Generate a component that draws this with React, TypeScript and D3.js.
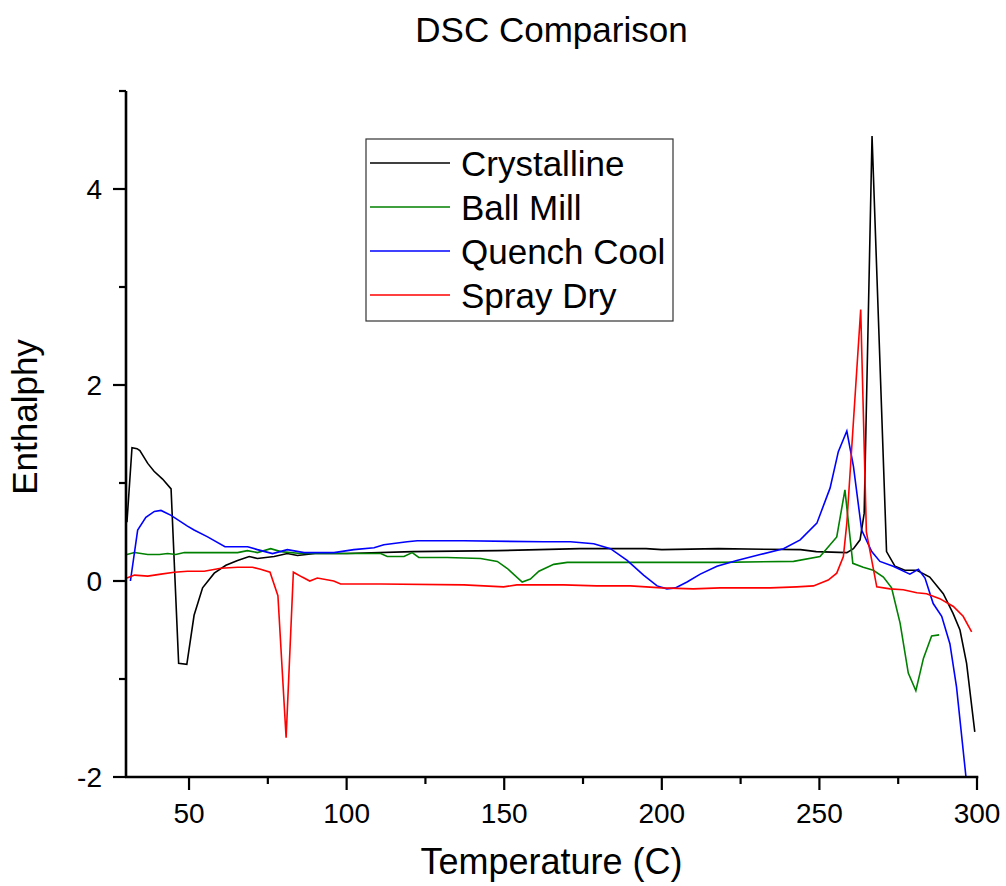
import React from "react";
import * as d3 from "d3";

type Pt = [number, number];

const title = "DSC Comparison";
const xLabel = "Temperature (C)";
const yLabel = "Enthalphy";

const xMajorTicks = [50, 100, 150, 200, 250, 300];
const xMinorTicks = [75, 125, 175, 225, 275];
const yMajorTicks = [-2, 0, 2, 4];
const yMinorTicks = [-1, 1, 3, 5];

const crystalline: Pt[] = [
  [30.3, 0.6], [31.9, 1.36], [33.5, 1.35], [34.4, 1.33], [36.9, 1.2], [38.9, 1.12],
  [41.6, 1.04], [44.3, 0.94], [46.7, -0.84], [49.3, -0.85], [51.6, -0.35], [54.3, -0.07],
  [58, 0.08], [61.7, 0.16], [65.4, 0.21], [69.1, 0.25], [71.7, 0.23], [77, 0.25],
  [81.2, 0.28], [84.4, 0.26], [90, 0.28], [100, 0.28], [121, 0.3], [148, 0.31],
  [174, 0.33], [195, 0.33], [200, 0.32], [218, 0.33], [244, 0.32], [249, 0.3],
  [258.7, 0.29], [260.8, 0.33], [262.9, 0.42], [264.2, 0.69], [266.7, 4.54],
  [271.3, 0.3], [274, 0.15], [277.1, 0.11], [280.9, 0.11], [285, 0.04], [289.3, -0.13],
  [292.4, -0.33], [294.6, -0.5], [296.7, -0.84], [299.3, -1.54],
];

const ballMill: Pt[] = [
  [30.3, 0.27], [32.7, 0.29], [36.9, 0.27], [40.6, 0.27], [43.2, 0.28], [45.8, 0.27],
  [48.5, 0.29], [55.9, 0.29], [65.4, 0.29], [68.5, 0.31], [71.7, 0.29], [75.9, 0.33],
  [79.1, 0.3], [85.4, 0.28], [95, 0.28], [110.8, 0.28], [112.9, 0.25], [118.2, 0.25],
  [120.8, 0.29], [122.9, 0.24], [131.9, 0.24], [142.5, 0.23], [147.8, 0.2], [150.9, 0.13],
  [155.7, -0.01], [158.3, 0.02], [161, 0.1], [165.7, 0.17], [170, 0.19], [190, 0.19],
  [218.5, 0.19], [241.8, 0.2], [250.2, 0.25], [255.5, 0.45], [258.1, 0.93], [260.6, 0.18],
  [263.9, 0.14], [267.1, 0.11], [270.3, 0.04], [272.9, -0.07], [275.6, -0.43],
  [278.2, -0.94], [280.6, -1.12], [283, -0.79], [285.6, -0.56], [288, -0.55],
];

const quenchCool: Pt[] = [
  [31.4, 0.0], [33.7, 0.52], [36.3, 0.65], [39, 0.71], [41.1, 0.72], [44.3, 0.67],
  [49.5, 0.56], [51.6, 0.52], [55.9, 0.45], [61.4, 0.35], [68.6, 0.35], [71.7, 0.32],
  [76.5, 0.28], [81.2, 0.32], [86.5, 0.29], [96, 0.29], [102.3, 0.32], [108.7, 0.34],
  [111.8, 0.37], [119.2, 0.4], [122.4, 0.41], [137.2, 0.41], [162.5, 0.4], [171, 0.4],
  [178.4, 0.38], [183.7, 0.33], [189, 0.21], [194.2, 0.06], [198.5, -0.05], [201.6, -0.08],
  [204.3, -0.07], [208, -0.01], [212.2, 0.07], [217.5, 0.15], [223.8, 0.21], [231.2, 0.27],
  [238.6, 0.33], [243.9, 0.42], [249.2, 0.59], [253.4, 0.95], [256, 1.32], [258.7, 1.53],
  [260.8, 1.17], [263.4, 0.52], [266.6, 0.3], [269.2, 0.2], [273.4, 0.15], [278.7, 0.07],
  [281.4, 0.12], [283.5, 0.03], [286.1, -0.23], [288.8, -0.36], [291.4, -0.64],
  [293.5, -1.08], [296.5, -2.0],
];

const sprayDry: Pt[] = [
  [30.3, 0.03], [32.7, 0.06], [36.9, 0.05], [41.1, 0.07], [45.3, 0.09], [49.5, 0.1],
  [54.8, 0.1], [60.1, 0.13], [65.4, 0.14], [70.1, 0.14], [72.7, 0.12], [75.7, 0.09],
  [78.2, -0.15], [80.8, -1.6], [83.1, 0.09], [85.9, 0.04], [88.3, 0.0], [90.7, 0.03],
  [95.9, 0.0], [98.1, -0.03], [110.8, -0.03], [137.2, -0.04], [143.5, -0.05],
  [149.8, -0.06], [154, -0.04], [168.8, -0.04], [179.3, -0.05], [190, -0.05], [200, -0.07],
  [210, -0.08], [218.5, -0.07], [234.4, -0.07], [242.8, -0.06], [248.1, -0.05],
  [252.8, 0.01], [255.5, 0.08], [257.6, 0.25], [258.7, 0.59], [263.1, 2.77], [264.9, 0.5],
  [268.2, -0.06], [272.4, -0.08], [276.6, -0.09], [280.9, -0.12], [284, -0.13],
  [288.2, -0.18], [292.5, -0.26], [295.6, -0.36], [298.3, -0.52],
];

const seriesNames = ["Crystalline", "Ball Mill", "Quench Cool", "Spray Dry"];
const seriesColors = ["#000000", "#008000", "#0000ff", "#ff0000"];
const seriesData = [crystalline, ballMill, quenchCool, sprayDry];

const W = 1006;
const H = 886;
const FONT = "'Liberation Sans', Arial, sans-serif";

export default function App() {
  const x = d3.scaleLinear().domain([30, 300]).range([126, 977]);
  const y = d3.scaleLinear().domain([-2, 5]).range([777, 91]);
  const line = d3
    .line<Pt>()
    .x((d) => x(d[0]))
    .y((d) => y(d[1]));

  const plotLeft = x(30);
  const plotRight = x(300);
  const plotBottom = y(-2);
  const plotTop = y(5);

  const legendX = 366;
  const legendY = 139;
  const legendW = 307;
  const legendH = 182;
  const rowGap = 44;

  return (
    <svg
      width={W}
      height={H}
      style={{ position: "absolute", left: 0, top: 0, background: "#fff" }}
      fontFamily={FONT}
    >
      <rect x={0} y={0} width={W} height={H} fill="#fff" />
      <text x={(plotLeft + plotRight) / 2} y={42} textAnchor="middle" fontSize={35} fill="#000">
        {title}
      </text>

      {seriesData.map((d, i) => (
        <path
          key={seriesNames[i]}
          d={line(d) || ""}
          fill="none"
          stroke={seriesColors[i]}
          strokeWidth={1.6}
          strokeLinejoin="miter"
        />
      ))}

      {/* axes */}
      <line x1={plotLeft} x2={plotLeft} y1={plotTop} y2={plotBottom + 1} stroke="#000" strokeWidth={2.6} />
      <line x1={plotLeft - 1} x2={plotRight + 1.3} y1={plotBottom} y2={plotBottom} stroke="#000" strokeWidth={2.6} />

      {yMajorTicks.map((t) => (
        <g key={"ym" + t}>
          <line x1={plotLeft - 13} x2={plotLeft} y1={y(t)} y2={y(t)} stroke="#000" strokeWidth={2.2} />
          <text x={102} y={y(t)} dy="0.35em" textAnchor="end" fontSize={28} fill="#000">
            {t}
          </text>
        </g>
      ))}
      {yMinorTicks.map((t) => (
        <line key={"yn" + t} x1={plotLeft - 7} x2={plotLeft} y1={y(t)} y2={y(t)} stroke="#000" strokeWidth={2.2} />
      ))}
      {xMajorTicks.map((t) => (
        <g key={"xm" + t}>
          <line x1={x(t)} x2={x(t)} y1={plotBottom} y2={plotBottom + 13} stroke="#000" strokeWidth={2.2} />
          <text x={x(t)} y={823} textAnchor="middle" fontSize={28} fill="#000">
            {t}
          </text>
        </g>
      ))}
      {xMinorTicks.map((t) => (
        <line key={"xn" + t} x1={x(t)} x2={x(t)} y1={plotBottom} y2={plotBottom + 7} stroke="#000" strokeWidth={2.2} />
      ))}

      <text x={(plotLeft + plotRight) / 2} y={874} textAnchor="middle" fontSize={36} fill="#000">
        {xLabel}
      </text>
      <text
        transform={`translate(37,417) rotate(-90)`}
        textAnchor="middle"
        fontSize={35}
        fill="#000"
      >
        {yLabel}
      </text>

      {/* legend */}
      <rect x={legendX} y={legendY} width={legendW} height={legendH} fill="#fff" stroke="#333" strokeWidth={1.2} />
      {seriesNames.map((n, i) => {
        const ly = legendY + 24 + i * rowGap;
        return (
          <g key={"lg" + n}>
            <line x1={legendX + 4} x2={legendX + 84} y1={ly} y2={ly} stroke={seriesColors[i]} strokeWidth={1.6} />
            <text x={legendX + 95} y={ly} dy="0.36em" fontSize={35} fill="#000">
              {n}
            </text>
          </g>
        );
      })}
    </svg>
  );
}
